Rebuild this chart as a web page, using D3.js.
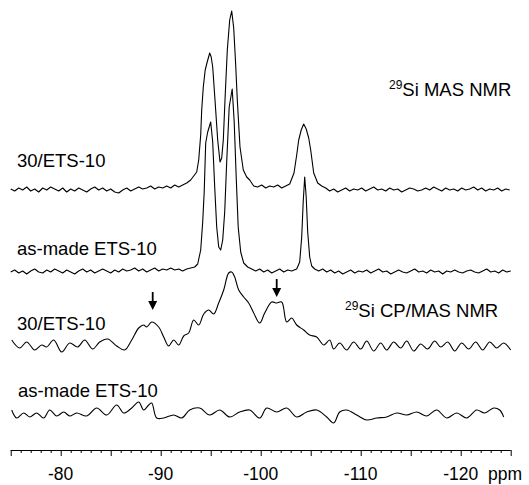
<!DOCTYPE html>
<html>
<head>
<meta charset="utf-8">
<script src="https://cdn.jsdelivr.net/npm/d3@7"></script>
<style>
  html, body { margin: 0; padding: 0; background: #fff; }
  svg { display: block; }
  text { font-family: Arial, "Liberation Sans", sans-serif; fill: #000; }
  .trace { fill: none; stroke: #000; stroke-width: 1.1; stroke-linejoin: round; }
  .axis path, .axis line { stroke: #000; stroke-width: 1; }
</style>
</head>
<body>
<svg id="chart" width="529" height="485"></svg>
<script>
// chemical shift ticks (ppm)
const tickLabels = [-80, -90, -100, -110, -120];
const midTicks = [-75, -80, -85, -90, -95, -100, -105, -110, -115, -120, -125];
const minorTicks = d3.range(-75, -126, -1);

// 29Si MAS NMR, 30/ETS-10  [ppm, intensity]
const masTreated = [
  [-75.0,1],[-75.4,-1],[-75.8,2],[-76.2,0],[-76.6,3],[-77.0,-1],[-77.4,1],[-77.8,-2],[-78.2,2],[-78.6,0],
  [-79.0,3],[-79.4,1],[-79.8,-1],[-80.2,2],[-80.6,-2],[-81.0,1],[-81.4,-1],[-81.8,2],[-82.2,0],[-82.6,-2],
  [-83.0,1],[-83.4,3],[-83.8,0],[-84.2,2],[-84.6,-1],[-85.0,1],[-85.4,-2],[-85.8,-3],[-86.2,0],[-86.6,2],
  [-87.0,-1],[-87.4,1],[-87.8,3],[-88.2,1],[-88.6,2],[-89.0,4],[-89.4,1],[-89.8,3],[-90.2,2],[-90.6,4],
  [-91.0,2],[-91.4,5],[-91.8,3],[-92.2,5],[-92.6,7],[-93.0,10],[-93.3,14],[-93.6,18],[-93.8,30],[-94.0,55],
  [-94.1,80],[-94.26,103],[-94.45,120],[-94.65,128],[-94.9,137],[-95.05,133],[-95.2,123],[-95.43,90],[-95.7,50],[-95.93,28],
  [-96.1,32],[-96.26,50],[-96.43,90],[-96.66,140],[-96.9,170],[-97.1,179],[-97.3,162],[-97.5,125],[-97.66,90],[-97.93,43],
  [-98.26,20],[-98.6,13],[-98.9,10],[-99.3,4],[-99.7,3],[-100.1,5],[-100.5,2],[-100.9,4],[-101.3,3],[-101.7,5],
  [-102.1,2],[-102.5,4],[-102.9,6],[-103.33,17],[-103.6,35],[-103.8,50],[-104.05,60],[-104.3,66],[-104.55,61],[-104.8,52],
  [-105.0,40],[-105.3,17],[-105.7,7],[-106.1,4],[-106.5,2],[-106.9,-1],[-107.3,1],[-107.7,-2],[-108.1,0],[-108.5,2],
  [-108.9,-1],[-109.3,1],[-109.7,0],[-110.1,2],[-110.5,-1],[-110.9,1],[-111.3,3],[-111.7,0],[-112.1,1],[-112.5,-1],
  [-112.9,2],[-113.3,0],[-113.7,1],[-114.1,-2],[-114.5,0],[-114.9,2],[-115.3,1],[-115.7,-1],[-116.1,0],[-116.5,2],
  [-116.9,0],[-117.3,3],[-117.7,1],[-118.1,-1],[-118.5,2],[-118.9,0],[-119.3,1],[-119.7,-1],[-120.1,2],[-120.5,0],
  [-120.9,1],[-121.3,3],[-121.7,0],[-122.1,2],[-122.5,-1],[-122.9,1],[-123.3,0],[-123.7,2],[-124.1,-1],[-124.5,1],[-124.9,0]
];

// 29Si MAS NMR, as-made ETS-10
const masAsMade = [
  [-75.0,0],[-75.4,2],[-75.8,-1],[-76.2,1],[-76.6,-2],[-77.0,1],[-77.4,3],[-77.8,0],[-78.2,-1],[-78.6,2],
  [-79.0,0],[-79.4,3],[-79.8,1],[-80.2,-1],[-80.6,2],[-81.0,0],[-81.4,-2],[-81.8,1],[-82.2,3],[-82.6,0],
  [-83.0,2],[-83.4,-1],[-83.8,1],[-84.2,3],[-84.6,1],[-85.0,-1],[-85.4,2],[-85.8,0],[-86.2,3],[-86.6,1],
  [-87.0,2],[-87.4,4],[-87.8,1],[-88.2,3],[-88.6,0],[-89.0,2],[-89.4,4],[-89.8,1],[-90.2,3],[-90.6,2],
  [-91.0,4],[-91.4,2],[-91.8,3],[-92.2,1],[-92.6,3],[-93.0,4],[-93.4,5],[-93.7,8],[-94.0,22],[-94.2,50],
  [-94.35,80],[-94.5,129],[-94.7,140],[-95.0,150],[-95.2,130],[-95.4,85],[-95.6,45],[-95.8,25],[-96.0,22],[-96.2,32],
  [-96.4,60],[-96.6,110],[-96.85,165],[-97.15,183],[-97.35,150],[-97.55,95],[-97.75,45],[-98.0,20],[-98.3,9],[-98.7,5],
  [-99.1,3],[-99.5,1],[-99.9,3],[-100.3,0],[-100.7,2],[-101.1,-1],[-101.5,1],[-101.9,3],[-102.3,0],[-102.7,2],
  [-103.1,1],[-103.6,3],[-103.9,10],[-104.1,35],[-104.25,70],[-104.4,95],[-104.55,75],[-104.7,40],[-104.9,15],[-105.1,6],
  [-105.4,3],[-105.8,1],[-106.2,3],[-106.6,0],[-107.0,2],[-107.4,-1],[-107.8,1],[-108.2,-2],[-108.6,0],[-109.0,2],
  [-109.4,-1],[-109.8,1],[-110.2,0],[-110.6,2],[-111.0,-1],[-111.4,1],[-111.8,3],[-112.2,0],[-112.6,1],[-113.0,-2],
  [-113.4,0],[-113.8,2],[-114.2,0],[-114.6,-1],[-115.0,1],[-115.4,3],[-115.8,0],[-116.2,1],[-116.6,-1],[-117.0,2],
  [-117.4,0],[-117.8,1],[-118.2,-2],[-118.6,1],[-119.0,0],[-119.4,2],[-119.8,0],[-120.2,-1],[-120.6,1],[-121.0,2],
  [-121.4,0],[-121.8,-1],[-122.2,1],[-122.6,3],[-123.0,0],[-123.4,1],[-123.8,-1],[-124.2,2],[-124.6,0],[-125.0,1]
];

// 29Si CP/MAS NMR, 30/ETS-10
const cpTreated = [
  [-75.1,7],[-75.9,-1],[-76.6,5],[-77.4,-3],[-78.1,2],[-78.6,0],[-79.3,7],[-80.1,-5],[-80.9,4],[-81.7,0],
  [-82.4,7],[-83.2,-2],[-83.9,5],[-84.7,8],[-85.6,1],[-86.4,-3],[-87.1,7],[-87.8,19],[-88.3,22],[-88.6,20],
  [-89.1,25],[-89.8,20],[-90.3,10],[-90.8,1],[-91.3,7],[-91.8,2],[-92.3,11],[-92.8,14],[-93.3,27],[-93.8,22],
  [-94.3,33],[-94.8,37],[-95.3,33],[-95.8,44],[-96.3,57],[-96.8,74],[-97.1,75],[-97.4,70],[-97.8,57],[-98.3,50],
  [-98.8,44],[-99.3,34],[-99.9,24],[-100.4,34],[-101.1,45],[-101.6,44],[-102.1,45],[-102.6,25],[-103.1,29],[-103.6,22],
  [-104.3,17],[-104.9,12],[-105.6,10],[-106.3,2],[-106.9,7],[-107.3,-2],[-107.9,4],[-108.6,-3],[-109.3,5],[-110.0,-2],
  [-110.6,6],[-111.3,-4],[-112.0,4],[-112.6,-3],[-113.3,5],[-114.0,-1],[-114.6,6],[-115.3,-4],[-116.0,3],[-116.7,-2],
  [-117.4,6],[-118.0,0],[-118.7,5],[-119.4,-4],[-120.1,4],[-120.8,-2],[-121.5,5],[-122.2,-3],[-122.9,5],[-123.6,-1],
  [-124.3,4],[-125.0,-3]
];

// 29Si CP/MAS NMR, as-made ETS-10
const cpAsMade = [
  [-75.1,3],[-75.6,-5],[-76.3,0],[-76.9,-4],[-77.6,0],[-78.3,-5],[-78.9,3],[-79.6,-3],[-80.3,1],[-80.9,-3],
  [-81.6,0],[-82.6,-3],[-83.6,5],[-84.6,-2],[-85.6,8],[-86.3,0],[-87.1,5],[-87.8,11],[-88.3,3],[-88.8,8],
  [-89.1,10],[-89.6,-5],[-90.3,-5],[-91.3,-2],[-92.1,-5],[-92.9,3],[-93.9,5],[-94.9,-2],[-95.9,3],[-96.9,-4],
  [-97.9,1],[-98.9,3],[-99.9,-5],[-100.6,5],[-101.6,1],[-102.6,5],[-103.6,-4],[-104.6,1],[-105.6,3],[-106.6,-4],
  [-107.3,-10],[-107.9,1],[-108.6,3],[-109.6,-2],[-110.6,-7],[-111.6,-5],[-112.6,-4],[-113.6,0],[-114.6,-2],[-115.6,1],
  [-116.6,-3],[-117.6,3],[-118.6,-5],[-119.6,0],[-120.6,-5],[-121.6,3],[-122.4,0],[-123.3,5],[-123.9,3],[-124.3,-4]
];

// CP/MAS arrows: [ppm, tip intensity]
const arrowMarks = [[-89.2, 37], [-101.6, 50]];

const traces = [
  { data: masTreated, offset: 260, curve: d3.curveLinear },
  { data: masAsMade, offset: 178, curve: d3.curveLinear },
  { data: cpTreated, offset: 103, curve: d3.curveCatmullRom },
  { data: cpAsMade, offset: 37, curve: d3.curveCatmullRom }
];

const svg = d3.select("#chart");
const x = d3.scaleLinear().domain([-75, -125]).range([10.7, 510.7]);
const y = d3.scaleLinear().domain([0, 450]).range([450, 0]);

traces.forEach((t) => {
  const line = d3.line()
    .x((d) => x(d[0]))
    .y((d) => y(d[1] + t.offset))
    .curve(t.curve);
  svg.append("path").attr("class", "trace").attr("d", line(t.data));
});

// arrows above the CP/MAS shoulders
const cpOffset = traces[2].offset;
arrowMarks.forEach(([ppm, tip]) => {
  const ax = x(ppm);
  const ay = y(tip + cpOffset);
  svg.append("line")
    .attr("x1", ax).attr("x2", ax)
    .attr("y1", ay - 18).attr("y2", ay - 7)
    .attr("stroke", "#000").attr("stroke-width", 1.8);
  svg.append("path")
    .attr("d", `M${ax - 4.5},${ay - 9} L${ax + 4.5},${ay - 9} L${ax},${ay} Z`)
    .attr("fill", "#000");
});

// axis
const axisY = 450;
const axis = svg.append("g").attr("class", "axis").attr("transform", `translate(0,${axisY})`);
axis.call(d3.axisBottom(x).tickValues(midTicks).tickSize(6).tickSizeOuter(0).tickFormat(""));
axis.select(".domain").attr("d", `M${x(-75)},0.5H${x(-125)}`);
axis.selectAll(".minor")
  .data(minorTicks.filter((v) => v % 5 !== 0))
  .enter()
  .append("line")
  .attr("x1", (d) => x(d) + 0.5).attr("x2", (d) => x(d) + 0.5)
  .attr("y1", 0).attr("y2", 3);

svg.append("g")
  .selectAll("text")
  .data(tickLabels)
  .enter()
  .append("text")
  .attr("x", (d) => x(d))
  .attr("y", 480)
  .attr("text-anchor", "middle")
  .style("font-size", "17.5px")
  .text((d) => d);

svg.append("text").attr("x", 488).attr("y", 480).style("font-size", "17.5px").text("ppm");

// sample labels
const labelFont = "18.5px";
const sampleLabels = [
  { text: "30/ETS-10", x: 17, y: 167 },
  { text: "as-made ETS-10", x: 17, y: 255 },
  { text: "30/ETS-10", x: 17, y: 330 },
  { text: "as-made ETS-10", x: 18, y: 397 }
];
sampleLabels.forEach((l) => {
  svg.append("text").attr("x", l.x).attr("y", l.y).style("font-size", labelFont).text(l.text);
});

const nmrLabels = [
  { rest: "Si MAS NMR", x: 389, y: 96 },
  { rest: "Si CP/MAS NMR", x: 345, y: 317 }
];
nmrLabels.forEach((l) => {
  const t = svg.append("text").attr("x", l.x).attr("y", l.y).style("font-size", labelFont);
  t.append("tspan").attr("dy", -7).style("font-size", "12px").text("29");
  t.append("tspan").attr("dy", 7).text(l.rest);
});
</script>
</body>
</html>
